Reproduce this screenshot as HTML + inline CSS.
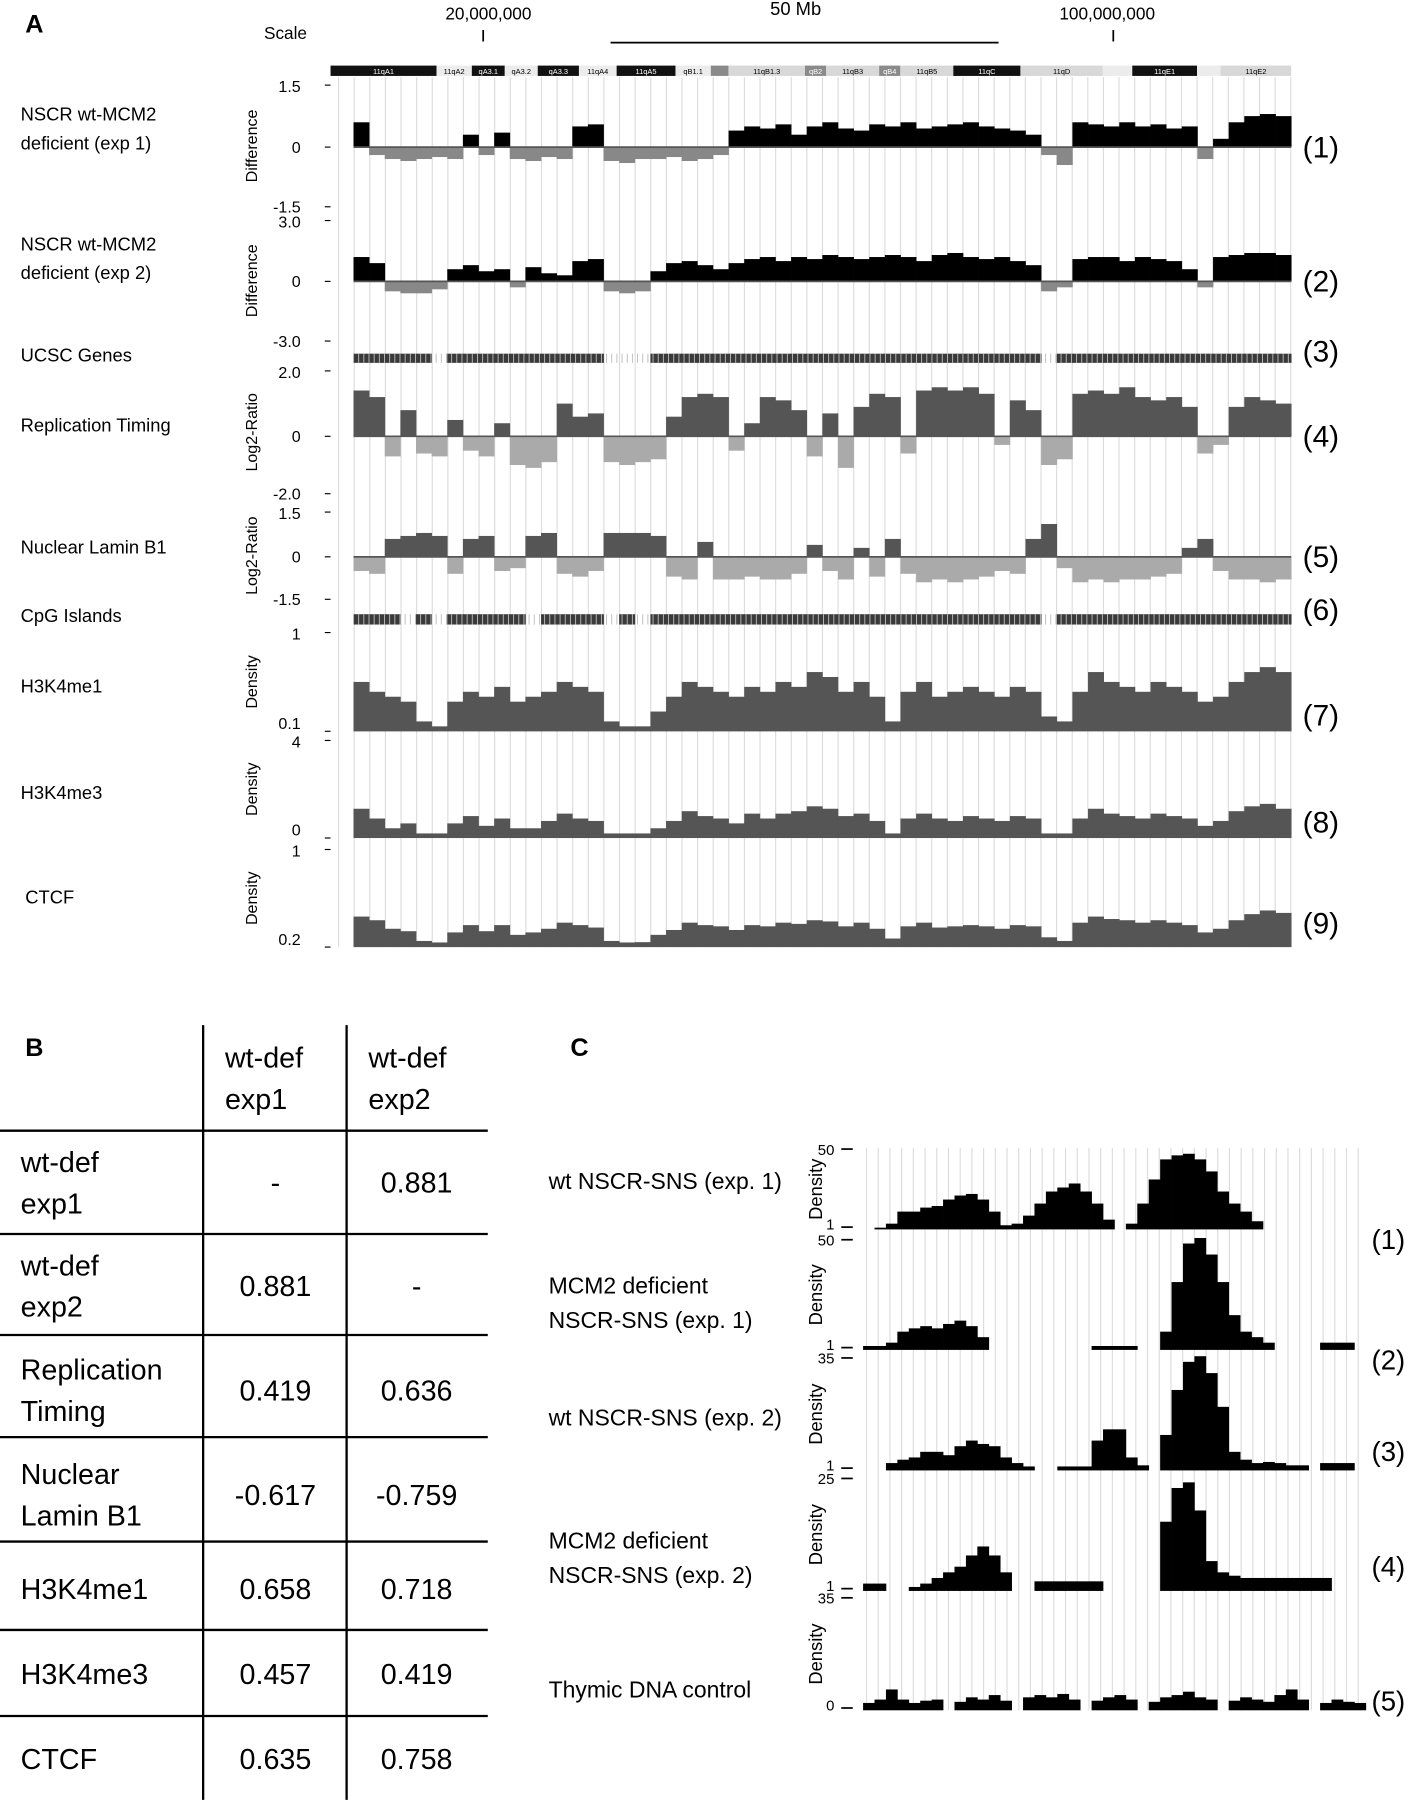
<!DOCTYPE html>
<html><head><meta charset="utf-8">
<style>
html,body{margin:0;padding:0;background:#fff;}
svg{display:block;}
text{font-family:"Liberation Sans",sans-serif;}
</style></head>
<body>
<svg id="fig" width="1414" height="1800" viewBox="0 0 1232 1568" xmlns="http://www.w3.org/2000/svg">
<g>
<text x="22" y="28" font-size="22" font-weight="bold">A</text>
<text x="230" y="34" font-size="15">Scale</text>
<text x="388" y="17" font-size="15">20,000,000</text>
<line x1="421" y1="26" x2="421" y2="36" stroke="#000" stroke-width="1.5"/>
<text x="671" y="13" font-size="16">50 Mb</text>
<line x1="532" y1="37" x2="870" y2="37" stroke="#000" stroke-width="1.5"/>
<text x="923" y="17" font-size="15">100,000,000</text>
<line x1="970" y1="26" x2="970" y2="36" stroke="#000" stroke-width="1.5"/>
</g>
<g id="gridA"></g>
<g id="ideo"></g>
<g id="tracksA"></g>
<g id="labelsA" font-size="16">
<text x="18" y="105">NSCR wt-MCM2</text>
<text x="18" y="130">deficient (exp 1)</text>
<text x="18" y="218">NSCR wt-MCM2</text>
<text x="18" y="243">deficient (exp 2)</text>
<text x="18" y="315">UCSC Genes</text>
<text x="18" y="376">Replication Timing</text>
<text x="18" y="482">Nuclear Lamin B1</text>
<text x="18" y="542">CpG Islands</text>
<text x="18" y="603">H3K4me1</text>
<text x="18" y="696">H3K4me3</text>
<text x="22" y="787">CTCF</text>
</g>
<g font-size="25">
<text x="22" y="920" font-size="22" font-weight="bold">B</text>
<line x1="177" y1="893" x2="177" y2="1568" stroke="#000" stroke-width="2"/>
<line x1="302" y1="893" x2="302" y2="1568" stroke="#000" stroke-width="2"/>
<line x1="0" y1="985" x2="425" y2="985" stroke="#000" stroke-width="2"/>
<line x1="0" y1="1075" x2="425" y2="1075" stroke="#000" stroke-width="2"/>
<line x1="0" y1="1163" x2="425" y2="1163" stroke="#000" stroke-width="2"/>
<line x1="0" y1="1252" x2="425" y2="1252" stroke="#000" stroke-width="2"/>
<line x1="0" y1="1343" x2="425" y2="1343" stroke="#000" stroke-width="2"/>
<line x1="0" y1="1420" x2="425" y2="1420" stroke="#000" stroke-width="2"/>
<line x1="0" y1="1495" x2="425" y2="1495" stroke="#000" stroke-width="2"/>
<text x="196" y="930">wt-def</text>
<text x="196" y="966">exp1</text>
<text x="321" y="930">wt-def</text>
<text x="321" y="966">exp2</text>
<g text-anchor="middle">
<text x="240" y="1039">-</text><text x="363" y="1039">0.881</text>
<text x="240" y="1129">0.881</text><text x="363" y="1129">-</text>
<text x="240" y="1220">0.419</text><text x="363" y="1220">0.636</text>
<text x="240" y="1311">-0.617</text><text x="363" y="1311">-0.759</text>
<text x="240" y="1393">0.658</text><text x="363" y="1393">0.718</text>
<text x="240" y="1467">0.457</text><text x="363" y="1467">0.419</text>
<text x="240" y="1541">0.635</text><text x="363" y="1541">0.758</text>
</g>
<text x="18" y="1021">wt-def</text><text x="18" y="1057">exp1</text>
<text x="18" y="1111">wt-def</text><text x="18" y="1147">exp2</text>
<text x="18" y="1202">Replication</text><text x="18" y="1238">Timing</text>
<text x="18" y="1293">Nuclear</text><text x="18" y="1329">Lamin B1</text>
<text x="18" y="1393">H3K4me1</text>
<text x="18" y="1467">H3K4me3</text>
<text x="18" y="1541">CTCF</text>
</g>
<g font-size="20">
<text x="497" y="920" font-size="22" font-weight="bold">C</text>
<text x="478" y="1036">wt NSCR-SNS (exp. 1)</text>
<text x="478" y="1127">MCM2 deficient</text><text x="478" y="1157">NSCR-SNS (exp. 1)</text>
<text x="478" y="1242">wt NSCR-SNS (exp. 2)</text>
<text x="478" y="1349">MCM2 deficient</text><text x="478" y="1379">NSCR-SNS (exp. 2)</text>
<text x="478" y="1479">Thymic DNA control</text>
</g>
<g id="gridC"></g>
<g id="tracksC"></g>
</svg>
<script>
// ---- Panel A data (60 bins across chromosome 11) ----
const diffExp1 = [0.6,-0.2,-0.3,-0.35,-0.3,-0.25,-0.3,0.3,-0.2,0.35,-0.3,-0.35,-0.25,-0.3,0.5,0.55,-0.35,-0.4,-0.3,-0.3,-0.25,-0.35,-0.3,-0.2,0.4,0.5,0.45,0.55,0.3,0.5,0.6,0.45,0.4,0.55,0.5,0.6,0.45,0.5,0.55,0.6,0.5,0.45,0.4,0.3,-0.2,-0.45,0.6,0.55,0.5,0.6,0.5,0.55,0.45,0.5,-0.3,0.2,0.6,0.75,0.8,0.75];
const diffExp2 = [1.2,0.9,-0.5,-0.6,-0.6,-0.4,0.6,0.8,0.5,0.6,-0.3,0.7,0.4,0.3,1.0,1.1,-0.5,-0.6,-0.5,0.5,0.9,1.0,0.8,0.6,0.9,1.1,1.2,1.0,1.2,1.1,1.3,1.2,1.1,1.2,1.3,1.2,1.0,1.3,1.4,1.2,1.1,1.2,1.0,0.8,-0.5,-0.3,1.1,1.2,1.2,1.0,1.2,1.1,1.0,0.6,-0.3,1.2,1.3,1.4,1.4,1.3];
const replTiming = [1.4,1.2,-0.7,0.8,-0.6,-0.7,0.5,-0.5,-0.7,0.4,-1.0,-1.1,-0.9,1.0,0.6,0.7,-0.9,-1.0,-0.9,-0.8,0.6,1.2,1.3,1.2,-0.5,0.4,1.2,1.1,0.8,-0.7,0.7,-1.1,0.9,1.3,1.2,-0.6,1.4,1.5,1.4,1.5,1.3,-0.3,1.1,0.8,-1.0,-0.8,1.3,1.4,1.3,1.5,1.2,1.1,1.2,0.9,-0.6,-0.3,0.9,1.2,1.1,1.0];
const laminB1 = [-0.5,-0.6,0.6,0.7,0.8,0.7,-0.6,0.6,0.7,-0.5,-0.4,0.7,0.8,-0.6,-0.7,-0.5,0.8,0.8,0.8,0.7,-0.7,-0.8,0.5,-0.8,-0.8,-0.7,-0.8,-0.8,-0.6,0.4,-0.5,-0.8,0.3,-0.7,0.6,-0.6,-0.9,-0.8,-0.9,-0.8,-0.7,-0.5,-0.6,0.6,1.1,-0.4,-0.9,-0.8,-0.9,-0.8,-0.8,-0.7,-0.6,0.3,0.6,-0.5,-0.8,-0.8,-0.9,-0.8];
const h3k4me1 = [0.5,0.4,0.35,0.3,0.1,0.05,0.3,0.4,0.35,0.45,0.3,0.35,0.4,0.5,0.45,0.4,0.1,0.05,0.05,0.2,0.35,0.5,0.45,0.4,0.35,0.45,0.4,0.5,0.45,0.6,0.55,0.4,0.5,0.35,0.1,0.4,0.5,0.35,0.4,0.45,0.4,0.35,0.45,0.4,0.15,0.1,0.4,0.6,0.5,0.45,0.4,0.5,0.45,0.4,0.3,0.35,0.5,0.6,0.65,0.6];
const h3k4me3 = [1.2,0.8,0.4,0.6,0.1,0.1,0.6,0.9,0.5,0.8,0.4,0.4,0.7,1.0,0.8,0.7,0.1,0.1,0.1,0.4,0.7,1.1,0.9,0.8,0.6,1.0,0.8,1.0,1.1,1.3,1.2,0.9,1.0,0.7,0.1,0.8,1.0,0.8,0.7,0.9,0.8,0.7,0.9,0.8,0.1,0.1,0.8,1.2,1.0,0.9,0.8,1.0,0.9,0.8,0.5,0.7,1.1,1.3,1.4,1.2];
const ctcf = [0.45,0.42,0.35,0.33,0.25,0.23,0.32,0.38,0.33,0.38,0.3,0.32,0.35,0.4,0.38,0.36,0.25,0.23,0.24,0.3,0.34,0.4,0.38,0.37,0.34,0.38,0.37,0.4,0.39,0.42,0.41,0.37,0.4,0.35,0.27,0.37,0.4,0.36,0.37,0.38,0.37,0.35,0.38,0.37,0.28,0.25,0.4,0.45,0.43,0.42,0.4,0.42,0.4,0.38,0.32,0.35,0.42,0.47,0.5,0.48];
const geneDensity = [1,1,1,1,1,0,1,1,1,1,1,1,1,1,1,1,0,0,0,1,1,1,1,1,1,1,1,1,1,1,1,1,1,1,1,1,1,1,1,1,1,1,1,1,0,1,1,1,1,1,1,1,1,1,1,1,1,1,1,1];
const cpgDensity = [1,1,1,0,1,0,1,1,1,1,1,0,1,1,1,1,0,1,0,1,1,1,1,1,1,1,1,1,1,1,1,1,1,1,1,1,1,1,1,1,1,1,1,1,0,1,1,1,1,1,1,1,1,1,1,1,1,1,1,1];
const ideoBands = ["11qA1","11qA2","qA3.1","qA3.2","qA3.3","11qA4","11qA5","qB1.1","","11qB1.3","qB2","11qB3","qB4","11qB5","11qC","11qD","","11qE1","","11qE2"];
const ideoShades = [3,0,3,0,3,0,3,0,2,1,2,1,2,1,3,1,0,3,0,1];
const ideoWidths = [90,30,28,28,35,32,50,30,15,65,18,45,18,45,57,70,25,55,20,60];

// ---- Panel C data (44 bins, null = no data) ----
const snsWt1 = [null,0,0.05,0.2,0.2,0.25,0.27,0.35,0.4,0.42,0.35,0.2,0.03,0.05,0.15,0.3,0.45,0.5,0.55,0.45,0.3,0.1,null,0.05,0.3,0.6,0.85,0.9,0.92,0.85,0.7,0.45,0.3,0.2,0.08,null,null,null,null,null,null,null,null,null];
const snsDef1 = [0.02,0.02,0.05,0.15,0.18,0.2,0.18,0.22,0.25,0.2,0.1,null,null,null,null,null,null,null,null,null,0.02,0.02,0.02,0.02,null,null,0.15,0.6,0.95,1.0,0.85,0.6,0.3,0.15,0.1,0.05,null,null,null,null,0.05,0.05,0.05,null];
const snsWt2 = [null,null,0.05,0.08,0.1,0.15,0.15,0.12,0.2,0.25,0.22,0.2,0.1,0.05,0.02,null,null,0.02,0.02,0.02,0.25,0.35,0.35,0.1,0.03,null,0.3,0.7,0.95,1.0,0.85,0.55,0.15,0.08,0.05,0.06,0.05,0.03,0.03,null,0.05,0.05,0.05,null];
const snsDef2 = [0.05,0.05,null,null,0.02,0.05,0.1,0.15,0.2,0.3,0.38,0.3,0.15,null,null,0.07,0.07,0.07,0.07,0.07,0.07,null,null,null,null,null,0.6,0.9,0.95,0.7,0.25,0.15,0.12,0.1,0.1,0.1,0.1,0.1,0.1,0.1,0.1,null,null,null];
const thymic = [0.05,0.08,0.17,0.08,0.05,0.07,0.08,null,0.06,0.1,0.08,0.12,0.07,null,0.1,0.12,0.1,0.13,0.08,null,0.07,0.1,0.12,0.08,null,0.06,0.1,0.12,0.15,0.1,0.08,null,0.07,0.1,0.08,0.06,0.12,0.17,0.08,null,0.05,0.08,0.06,0.05];

const NS="http://www.w3.org/2000/svg";
function mk(tag, attrs, parent){const e=document.createElementNS(NS,tag);for(const k in attrs)e.setAttribute(k,attrs[k]);parent.appendChild(e);return e;}

// Panel A axes
const AX0=308, AX1=1125;
function xA(i,n){return AX0+(AX1-AX0)*i/n;}

const gridA=document.getElementById('gridA');
for(let x=295;x<=1125;x+=13.6){
  const l=mk('line',{x1:x,y1:67,x2:x,y2:825,stroke:'#dcdcdc','stroke-width':1},gridA);
  
  
}

// ideogram
const ideo=document.getElementById('ideo');
let ix=288;
const shadeFill=['#ececec','#d8d8d8','#8a8a8a','#111'];
for(let i=0;i<ideoBands.length;i++){
  const w=ideoWidths[i]*(1125-288)/ideoWidths.reduce((a,b)=>a+b,0);
  const r=mk('rect',{x:ix,y:57,width:w,height:9,fill:shadeFill[ideoShades[i]]},ideo);
  
  
  if(ideoBands[i]){
    const t=mk('text',{x:ix+w/2,y:64.5,'font-size':6.5,'text-anchor':'middle',fill:ideoShades[i]>=2?'#fff':'#000','font-family':'Liberation Mono, monospace'},ideo);
    t.textContent=ideoBands[i];
    
    
  }
  ix+=w;
}

const tracksA=document.getElementById('tracksA');
function axisText(g,x,y,s,anchor,size){const t=mk('text',{x:x,y:y,'font-size':size||14,'text-anchor':anchor||'end'},g);t.textContent=s;return t;}

function signedTrack(name,data,vmax,yTop,yZero,yBot,posCol,negCol,ticks,title,num){
  const g=mk('g',{},tracksA);
  
  
  const n=data.length;
  for(let i=0;i<n;i++){
    const v=data[i];
    const h=v>=0?(yZero-yTop)*v/vmax:(yBot-yZero)*(-v)/vmax;
    const r=mk('rect',{x:xA(i,n),y:v>=0?yZero-h:yZero,width:(AX1-AX0)/n+0.3,height:h,fill:v>=0?posCol:negCol},g);
    
    
  }
  mk('line',{x1:AX0,y1:yZero,x2:AX1,y2:yZero,stroke:'#555','stroke-width':1.5},g);
  axisText(g,262,yTop+6,ticks[0]);axisText(g,262,yZero+5,ticks[1]);axisText(g,262,yBot+5,ticks[2]);
  [yTop,yZero,yBot].forEach(y=>mk('line',{x1:283,y1:y,x2:288,y2:y,stroke:'#000'},g));
  const t=mk('text',{transform:`translate(224,${(yTop+yBot)/2}) rotate(-90)`,'font-size':14,'text-anchor':'middle'},g);t.textContent=title;
  const nn=mk('text',{x:1135,y:yZero+9,'font-size':26},g);nn.textContent=num;
}
function densityTrack(name,data,vmin,vmax,yTop,yBase,ticks,num,numY){
  const g=mk('g',{},tracksA);
  
  
  const n=data.length;
  for(let i=0;i<n;i++){
    const f=Math.max(0,(data[i]-vmin)/(vmax-vmin));
    const h=(yBase-yTop)*f;
    const r=mk('rect',{x:xA(i,n),y:yBase-h,width:(AX1-AX0)/n+0.3,height:h,fill:'#555'},g);
    
    
  }
  mk('rect',{x:AX0,y:yBase-4,width:AX1-AX0,height:4,fill:'#555'},g);
  axisText(g,262,yTop+6,ticks[0]);axisText(g,262,yBase-2,ticks[1]);
  mk('line',{x1:283,y1:yTop,x2:288,y2:yTop,stroke:'#000'},g);
  mk('line',{x1:283,y1:yBase,x2:288,y2:yBase,stroke:'#000'},g);
  const t=mk('text',{transform:`translate(224,${(yTop+yBase)/2}) rotate(-90)`,'font-size':14,'text-anchor':'middle'},g);t.textContent='Density';
  const nn=mk('text',{x:1135,y:numY,'font-size':26},g);nn.textContent=num;
}
function featureTrack(name,data,y,h,num,numY){
  const g=mk('g',{},tracksA);
  
  
  const n=data.length;
  for(let i=0;i<n;i++){
    if(!data[i])continue;
    const r=mk('rect',{x:xA(i,n),y:y,width:(AX1-AX0)/n+0.3,height:h,fill:'#3a3a3a'},g);
    
    
  }
  for(let x=AX0;x<AX1;x+=4.5) mk('line',{x1:x,y1:y,x2:x,y2:y+h,stroke:'#bbb','stroke-width':0.8},g);
  const nn=mk('text',{x:1135,y:numY,'font-size':26},g);nn.textContent=num;
}

signedTrack('track-diff-exp1',diffExp1,1.5,74,128,180,'#000','#888',['1.5','0','-1.5'],'Difference','(1)');
signedTrack('track-diff-exp2',diffExp2,3,192,245,297,'#000','#888',['3.0','0','-3.0'],'Difference','(2)');
featureTrack('track-ucsc-genes',geneDensity,308,8,'(3)',315);
signedTrack('track-replication-timing',replTiming,2,323,380,430,'#555','#aaa',['2.0','0','-2.0'],'Log2-Ratio','(4)');
signedTrack('track-lamin-b1',laminB1,1.5,446,485,522,'#555','#aaa',['1.5','0','-1.5'],'Log2-Ratio','(5)');
featureTrack('track-cpg-islands',cpgDensity,535,9,'(6)',540);
densityTrack('track-h3k4me1',h3k4me1,0,1,551,637,['1','0.1'],'(7)',632);
densityTrack('track-h3k4me3',h3k4me3,0,4,645,730,['4','0'],'(8)',725);
densityTrack('track-ctcf',ctcf,0.2,1,740,825,['1','0.2'],'(9)',813);

// Panel C
const CX0=752, CX1=1190;
function xC(i,n){return CX0+(CX1-CX0)*i/n;}
const gridC=document.getElementById('gridC');
for(let x=755;x<=1190;x+=10.2){
  const l=mk('line',{x1:x,y1:1000,x2:x,y2:1490,stroke:'#dcdcdc','stroke-width':1},gridC);
  
  
}
const tracksC=document.getElementById('tracksC');
function cTrack(name,data,yTop,yBase,ticks,num,numY){
  const g=mk('g',{},tracksC);
  
  
  const n=data.length;
  for(let i=0;i<n;i++){
    if(data[i]===null)continue;
    const h=(yBase-yTop)*data[i];
    const r=mk('rect',{x:xC(i,n),y:yBase-h-1.5,width:(CX1-CX0)/n+0.3,height:h+1.5,fill:'#000'},g);
    
    
  }
  axisText(g,727,yTop+5,ticks[0],'end',13);axisText(g,727,yBase,ticks[1],'end',13);
  mk('line',{x1:733,y1:yTop,x2:743,y2:yTop,stroke:'#000','stroke-width':1.5},g);
  mk('line',{x1:733,y1:yBase-2,x2:743,y2:yBase-2,stroke:'#000','stroke-width':1.5},g);
  const t=mk('text',{transform:`translate(716,${(yTop+yBase)/2}) rotate(-90)`,'font-size':16,'text-anchor':'middle'},g);t.textContent='Density';
  const nn=mk('text',{x:1195,y:numY,'font-size':24},g);nn.textContent=num;
}
cTrack('sns-wt-exp1',snsWt1,1001,1071,['50','1'],'(1)',1088);
cTrack('sns-def-exp1',snsDef1,1080,1176,['50','1'],'(2)',1193);
cTrack('sns-wt-exp2',snsWt2,1183,1281,['35','1'],'(3)',1273);
cTrack('sns-def-exp2',snsDef2,1288,1386,['25','1'],'(4)',1373);
cTrack('thymic-control',thymic,1392,1490,['35','0'],'(5)',1490);
</script>
</body></html>
